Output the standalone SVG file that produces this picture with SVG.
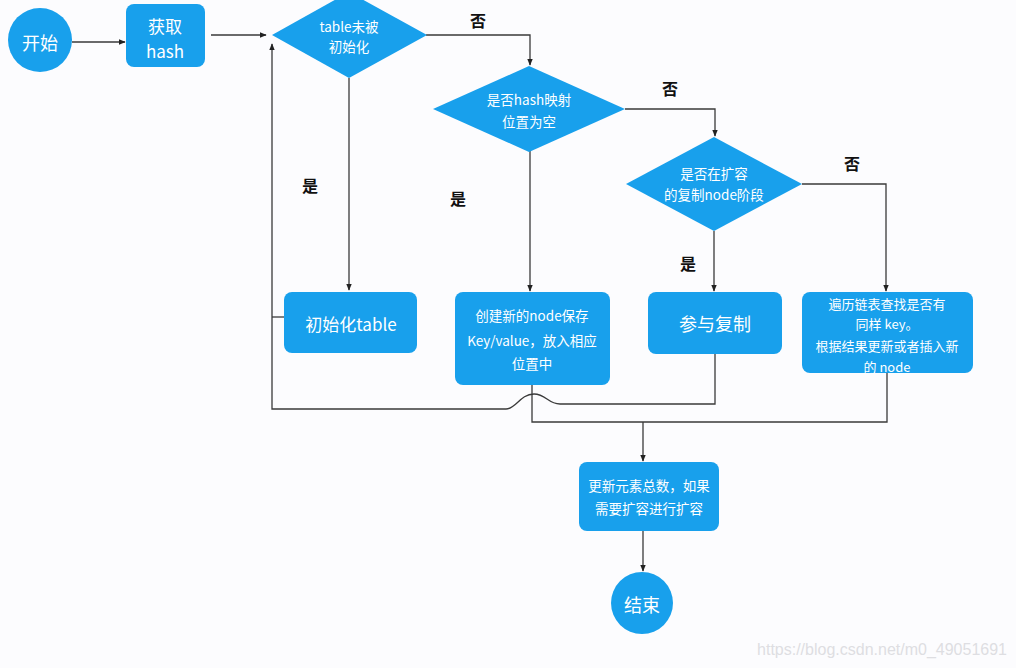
<svg xmlns="http://www.w3.org/2000/svg" width="1016" height="668" viewBox="0 0 1016 668">
<style>
.n{fill:#18a0ec}
.t{fill:#fff;font-family:"Noto Sans CJK SC","Liberation Sans",sans-serif;text-anchor:middle;dominant-baseline:central}
.l{fill:#111;font-family:"Noto Sans CJK SC","Liberation Sans",sans-serif;font-size:16px;font-weight:bold;text-anchor:middle;dominant-baseline:central}
.c{fill:none;stroke:#3a3a3a;stroke-width:1.3}
</style>
<defs>
<marker id="a" viewBox="0 0 10 10" refX="9" refY="5" markerWidth="7" markerHeight="7" orient="auto" markerUnits="userSpaceOnUse">
<path d="M0,1 L10,5 L0,9 Z" fill="#222"/>
</marker>
</defs>
<rect width="1016" height="668" fill="#fcfcfe"/>
<g id="connectors">
<path class="c" d="M72,42 H125" marker-end="url(#a)"/>
<path class="c" d="M211,35 H266" marker-end="url(#a)"/>
<path class="c" d="M426,35 H530 V65" marker-end="url(#a)"/>
<path class="c" d="M349,78 V290" marker-end="url(#a)"/>
<path class="c" d="M625,109 H715 V136" marker-end="url(#a)"/>
<path class="c" d="M530,151 V291" marker-end="url(#a)"/>
<path class="c" d="M802,184 H886 V291" marker-end="url(#a)"/>
<path class="c" d="M714,231 V291" marker-end="url(#a)"/>
<path class="c" d="M284,317 H272"/>
<path class="c" d="M715,354 V404 H560 C548,404 546,394 534,394 C520,394 516,409 506,409 H272 V44" marker-end="url(#a)"/>
<path class="c" d="M532,385 V422 H887 V373"/>
<path class="c" d="M643,422 V461" marker-end="url(#a)"/>
<path class="c" d="M643,531 V571" marker-end="url(#a)"/>
</g>
<g id="start"><circle class="n" cx="40" cy="40" r="32"/><text class="t" x="40" y="42" font-size="18">开始</text></g>
<g id="gethash"><rect class="n" x="126" y="4" width="79" height="63" rx="8"/><text class="t" x="165" y="25" font-size="17">获取</text><text class="t" x="165" y="50" font-size="17">hash</text></g>
<g id="d1"><polygon class="n" points="272,35 349,-8 427,35 349,78"/><text class="t" x="349" y="26" font-size="13.5">table未被</text><text class="t" x="349" y="46" font-size="13.5">初始化</text></g>
<g id="d2"><polygon class="n" points="433,109 529,66 625,109 529,152"/><text class="t" x="529" y="99" font-size="13.5">是否hash映射</text><text class="t" x="529" y="121" font-size="13.5">位置为空</text></g>
<g id="d3"><polygon class="n" points="626,184 714,137 802,184 714,231"/><text class="t" x="714" y="173" font-size="13.5">是否在扩容</text><text class="t" x="714" y="194" font-size="13.5">的复制node阶段</text></g>
<g id="inittable"><rect class="n" x="284" y="292" width="133" height="61" rx="8"/><text class="t" x="351" y="323" font-size="17">初始化table</text></g>
<g id="newnode"><rect class="n" x="455" y="292" width="155" height="93" rx="8"/><text class="t" x="532" y="315" font-size="13.5">创建新的node保存</text><text class="t" x="532" y="340" font-size="13.5">Key/value，放入相应</text><text class="t" x="532" y="363" font-size="13.5">位置中</text></g>
<g id="copy"><rect class="n" x="648" y="292" width="134" height="62" rx="8"/><text class="t" x="715" y="323" font-size="18">参与复制</text></g>
<g id="traverse"><rect class="n" x="802" y="292" width="171" height="81" rx="8"/><text class="t" x="887" y="303" font-size="13">遍历链表查找是否有</text><text class="t" x="887" y="323" font-size="13">同样 key。</text><text class="t" x="887" y="345" font-size="13">根据结果更新或者插入新</text><text class="t" x="887" y="366" font-size="13">的 node</text></g>
<g id="update"><rect class="n" x="579" y="462" width="140" height="69" rx="8"/><text class="t" x="649" y="485" font-size="13.5">更新元素总数，如果</text><text class="t" x="649" y="508" font-size="13.5">需要扩容进行扩容</text></g>
<g id="end"><circle class="n" cx="642" cy="603" r="31"/><text class="t" x="642" y="604" font-size="18">结束</text></g>
<g id="labels">
<text class="l" x="478" y="20">否</text>
<text class="l" x="670" y="88">否</text>
<text class="l" x="852" y="163">否</text>
<text class="l" x="310" y="185">是</text>
<text class="l" x="458" y="198">是</text>
<text class="l" x="688" y="263">是</text>
</g>
<text x="1007" y="655" text-anchor="end" font-family="Liberation Sans, Arial, sans-serif" font-size="16" fill="#dedee2">https://blog.csdn.net/m0_49051691</text>
</svg>
